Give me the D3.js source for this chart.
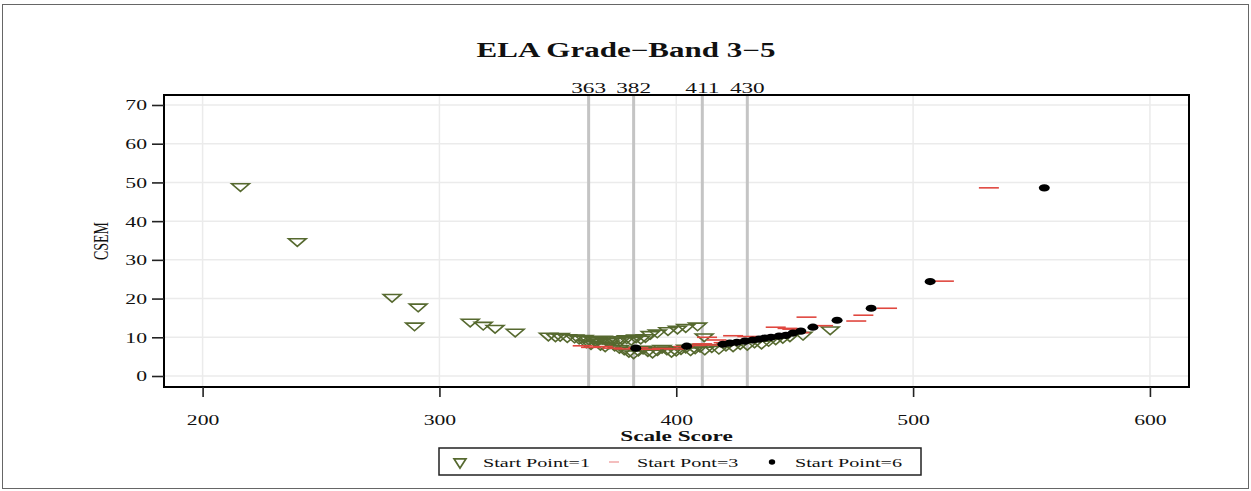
<!DOCTYPE html>
<html>
<head>
<meta charset="utf-8">
<script src="https://cdn.jsdelivr.net/npm/d3@7"></script>
<style>
  body { margin: 0; background: #fff; }
  svg text { font-family: "Liberation Serif", "Times New Roman", serif; fill: #111; }
</style>
</head>
<body>
<svg id="chart" width="1251" height="491"></svg>
<script>
// Start Point=1 (green triangles)
var sp1Score = [216, 240, 280, 291, 289.5, 313, 318.5, 323.5, 332,
    346, 349, 351, 354, 357, 359, 361, 363, 365, 367, 369, 371, 373, 375, 377, 379, 381, 383, 385, 387,
    389, 392, 396.5, 400.5, 404, 409, 411.8,
    362, 364, 366, 368, 370, 372, 374, 376, 378, 380, 382, 384, 386, 388, 390, 392, 394, 396, 398, 400,
    402, 404, 406, 408, 410, 412, 415, 418, 421, 424, 427, 430, 433, 436, 439, 442, 445, 448, 453.5, 465];
var sp1Csem = [49.0, 34.8, 20.4, 17.9, 13.0, 14.0, 13.2, 12.4, 11.4,
    10.4, 10.2, 10.3, 10.0, 9.9, 9.6, 9.8, 9.4, 9.5, 9.2, 9.6, 9.0, 9.4, 9.1, 9.5, 9.7, 9.3, 9.9, 9.6, 10.0,
    10.8, 11.2, 11.8, 12.2, 12.6, 13.0, 10.2,
    8.6, 8.2, 8.8, 8.0, 7.6, 8.4, 7.8, 7.2, 6.8, 6.2, 5.8, 6.5, 7.0, 6.4, 6.0, 6.6, 7.2, 6.8, 6.2, 6.5,
    6.9, 7.3, 6.6, 7.1, 7.5, 6.8, 7.4, 7.0, 7.8, 7.6, 8.2, 8.0, 8.6, 8.3, 9.0, 9.4, 9.8, 10.2, 10.6, 12.0];

// Start Pont=3 (red dashes)
var sp3Score = [360.5, 364, 369, 373, 378, 384, 389, 394, 399, 403, 408, 411, 413, 415, 417, 420, 424, 427,
    430, 434, 438, 442, 447, 449, 452, 455, 462, 476, 479, 489, 513, 532];
var sp3Csem = [7.8, 7.4, 7.6, 7.2, 7.0, 7.3, 6.9, 7.1, 7.0, 7.6, 7.9, 8.3, 10.0, 8.0, 9.3, 8.6, 10.4, 9.0,
    10.2, 9.6, 10.0, 12.6, 12.3, 12.1, 11.2, 15.2, 13.0, 14.2, 15.7, 17.5, 24.5, 48.6];

// Start Point=6 (black dots)
var sp6Score = [382.9, 404.4, 419.7, 422.6, 425.6, 429.0, 432.3, 434.9, 437.4, 440.0, 443.4, 446.3, 449.3,
    452.6, 457.7, 467.9, 482.3, 507.2, 555.4];
var sp6Csem = [7.2, 7.7, 8.2, 8.5, 8.7, 9.0, 9.3, 9.5, 9.8, 10.0, 10.3, 10.5, 11.1, 11.6, 12.6, 14.4, 17.5, 24.4, 48.6];

var refScores = [363, 382, 411, 430];
var xTicks = [200, 300, 400, 500, 600];
var yTicks = [0, 10, 20, 30, 40, 50, 60, 70];
var legendLabels = ["Start Point=1", "Start Pont=3", "Start Point=6"];

const SX = 1.55; // the source picture is stretched sideways
const green = "#56692f";
const red = "#e0473f";

var svg = d3.select("#chart");
const margins = {top: 95, right: 62, bottom: 104, left: 164};
const W = 1251, H = 491;

var x = d3.scaleLinear().domain([183.7, 616.5]).range([margins.left, W - margins.right]);
var y = d3.scaleLinear().domain([-2.84, 72.58]).range([H - margins.bottom, margins.top]);

function stretchText(g, px, py, str, anchor) {
    return g.append("text")
        .attr("transform", "translate(" + px + "," + py + ") scale(" + SX + ",1)")
        .attr("text-anchor", anchor || "middle")
        .text(str);
}

// outer border
svg.append("rect").attr("x", 2.5).attr("y", 4.5).attr("width", W - 5).attr("height", H - 7)
    .attr("fill", "none").attr("stroke", "#666").attr("stroke-width", 1);

// grid
var grid = svg.append("g");
grid.selectAll("line.gx").data(xTicks).enter().append("line")
    .attr("x1", d => x(d)).attr("x2", d => x(d))
    .attr("y1", y.range()[1]).attr("y2", y.range()[0])
    .attr("stroke", "#ebebeb").attr("stroke-width", 1.5);
grid.selectAll("line.gy").data(yTicks).enter().append("line")
    .attr("x1", x.range()[0]).attr("x2", x.range()[1])
    .attr("y1", d => y(d)).attr("y2", d => y(d))
    .attr("stroke", "#ebebeb").attr("stroke-width", 1.5);

// reference lines
svg.append("g").selectAll("line").data(refScores).enter().append("line")
    .attr("x1", d => x(d)).attr("x2", d => x(d))
    .attr("y1", y.range()[1]).attr("y2", y.range()[0])
    .attr("stroke", "#c4c4c4").attr("stroke-width", 3);
var refLab = svg.append("g").style("font-size", "15px");
refScores.forEach(d => stretchText(refLab, x(d), 93, d));

// marks
var tri = d3.symbol().type(d3.symbolTriangle).size(60);
var marks = svg.append("g");
marks.selectAll("path.sp1").data(d3.range(sp1Score.length)).enter().append("path")
    .attr("transform", i => "translate(" + x(sp1Score[i]) + "," + y(sp1Csem[i]) + ") scale(1.5,-0.75)")
    .attr("d", tri)
    .attr("fill", "none").attr("stroke", green).attr("stroke-width", 1.6)
    .attr("vector-effect", "non-scaling-stroke");
marks.selectAll("line.sp3").data(d3.range(sp3Score.length)).enter().append("line")
    .attr("x1", i => x(sp3Score[i]) - 10).attr("x2", i => x(sp3Score[i]) + 10)
    .attr("y1", i => y(sp3Csem[i])).attr("y2", i => y(sp3Csem[i]))
    .attr("stroke", red).attr("stroke-width", 1.6);
marks.selectAll("ellipse.sp6").data(d3.range(sp6Score.length)).enter().append("ellipse")
    .attr("cx", i => x(sp6Score[i])).attr("cy", i => y(sp6Csem[i]))
    .attr("rx", 5.5).attr("ry", 3.6).attr("fill", "#000");

// frame
svg.append("rect").attr("x", x.range()[0]).attr("y", y.range()[1])
    .attr("width", x.range()[1] - x.range()[0]).attr("height", y.range()[0] - y.range()[1])
    .attr("fill", "none").attr("stroke", "#000").attr("stroke-width", 2);

// axes
var xAxis = svg.append("g").attr("transform", "translate(0," + y.range()[0] + ")")
    .call(d3.axisBottom(x).tickValues(xTicks).tickSize(10).tickPadding(18));
var yAxis = svg.append("g").attr("transform", "translate(" + x.range()[0] + ",0)")
    .call(d3.axisLeft(y).tickValues(yTicks).tickSize(12).tickPadding(5));
[xAxis, yAxis].forEach(function(ax) {
    ax.select(".domain").remove();
    ax.selectAll(".tick line").attr("stroke", "#222").attr("stroke-width", 1.6);
    ax.selectAll(".tick text").style("font-size", "14px").style("font-family", "Liberation Serif").attr("fill", "#111");
});
xAxis.selectAll(".tick text").attr("transform", "scale(" + SX + ",1)");
yAxis.selectAll(".tick text").attr("x", -17 / SX).attr("dy", "0.35em").attr("transform", "scale(" + SX + ",1)");

// titles
var titles = svg.append("g");
stretchText(titles, 626, 57, "ELA Grade\u2212Band 3\u22125").style("font-size", "20px").style("font-weight", "bold");
stretchText(titles, (x.range()[0] + x.range()[1]) / 2, 441, "Scale Score").style("font-size", "15px").style("font-weight", "bold");
titles.append("text")
    .attr("transform", "translate(108,241) scale(" + SX + ",1) rotate(-90)")
    .attr("text-anchor", "middle").style("font-size", "14px").text("CSEM");

// legend
var legend = svg.append("g").attr("transform", "translate(439,448)");
legend.append("rect").attr("width", 482).attr("height", 27)
    .attr("fill", "#fff").attr("stroke", "#222").attr("stroke-width", 1.5);
var legX = [21, 175, 333];
legend.append("path").attr("d", tri)
    .attr("transform", "translate(" + legX[0] + ",14) scale(1,-0.9)")
    .attr("fill", "none").attr("stroke", green).attr("stroke-width", 1.8)
    .attr("vector-effect", "non-scaling-stroke");
legend.append("line").attr("x1", legX[1] - 5).attr("x2", legX[1] + 5).attr("y1", 14).attr("y2", 14)
    .attr("stroke", "#f0a8a8").attr("stroke-width", 1.5);
legend.append("ellipse").attr("cx", legX[2]).attr("cy", 14).attr("rx", 3.2).attr("ry", 2.8).attr("fill", "#000");
var legText = legend.append("g").style("font-size", "13px");
legendLabels.forEach((t, i) => stretchText(legText, legX[i] + 23, 18.5, t, "start"));
</script>
</body>
</html>
